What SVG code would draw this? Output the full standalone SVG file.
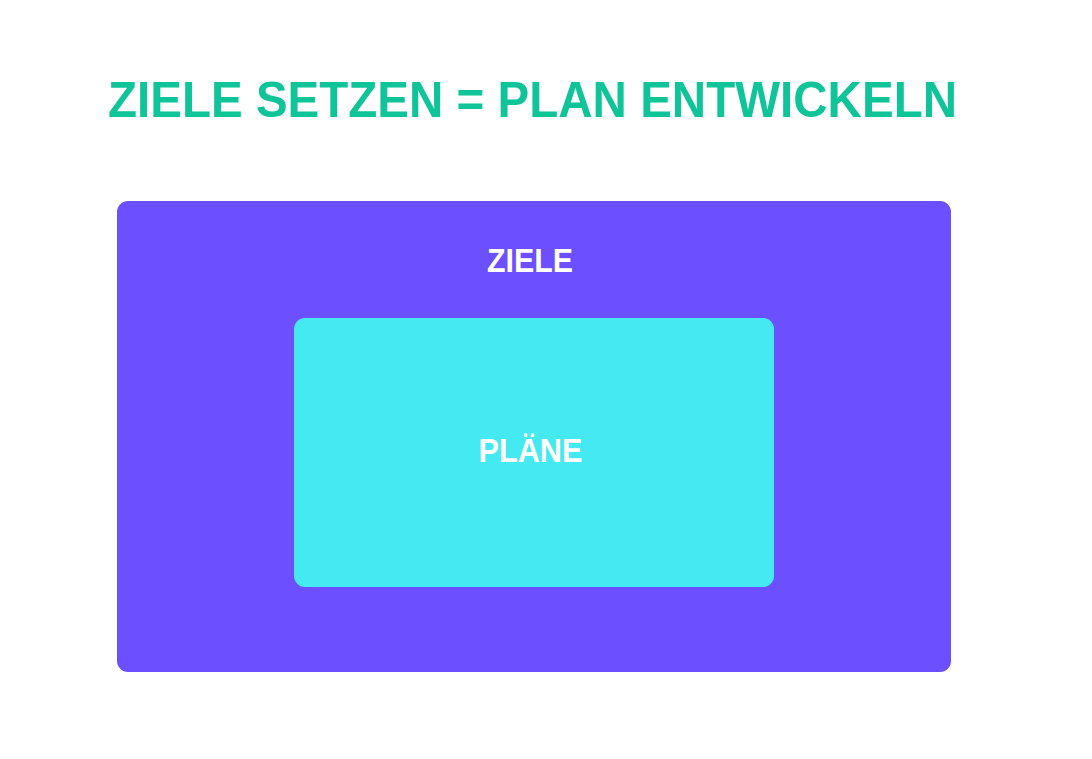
<svg xmlns="http://www.w3.org/2000/svg" width="1092" height="759" viewBox="0 0 1092 759">
<style>
.t{font-family:"Liberation Sans","Open Sans",Arial,sans-serif;font-weight:bold;text-anchor:middle}
.title{fill:#10C49A;font-size:50px}
.lbl{fill:#FFFFFF;font-size:33px}
</style>
<rect width="1092" height="759" fill="#FFFFFF"/>
<g id="title"><text class="t title" x="532.5" y="117" textLength="849" lengthAdjust="spacingAndGlyphs">ZIELE SETZEN = PLAN ENTWICKELN</text></g>
<g id="ziele">
<rect x="117" y="201" width="834" height="471" rx="11" fill="#6C50FF"/>
<text class="t lbl" x="530" y="272" textLength="86" lengthAdjust="spacingAndGlyphs">ZIELE</text>
</g>
<g id="plaene">
<rect x="294" y="318" width="480" height="269" rx="11" fill="#45E9F2"/>
<text class="t lbl" x="530.5" y="462" textLength="104" lengthAdjust="spacingAndGlyphs">PLÄNE</text>
</g>
<g id="connectors"/>
</svg>
